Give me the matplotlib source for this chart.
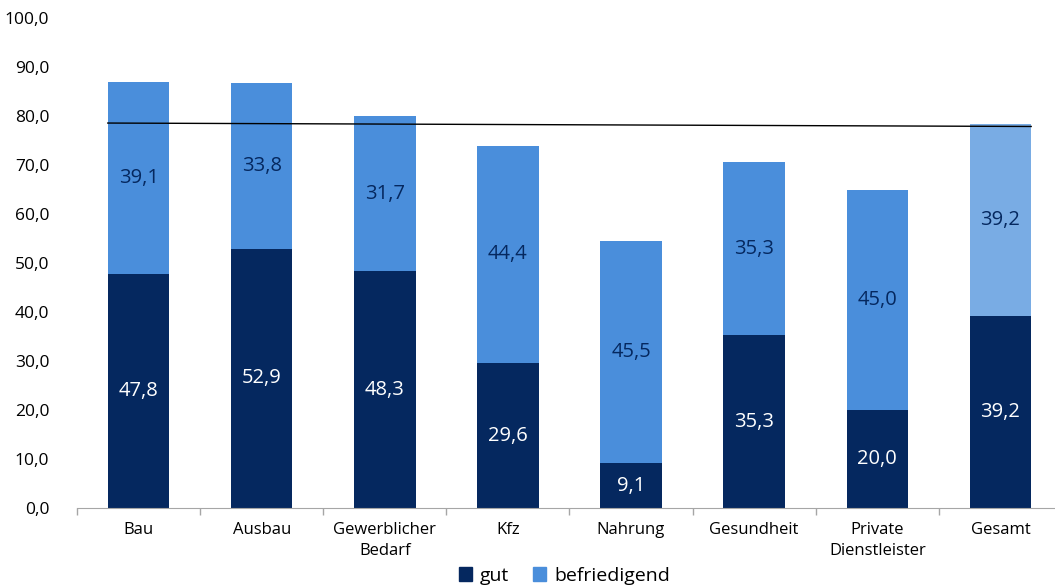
import numpy as np
import matplotlib
matplotlib.use("Agg")
import matplotlib.pyplot as plt
from matplotlib.patches import Patch
from matplotlib.ticker import FixedLocator, FuncFormatter

plt.rcParams['font.family'] = ['Open Sans', 'DejaVu Sans']

categories = ["Bau", "Ausbau", "Gewerblicher\nBedarf", "Kfz", "Nahrung",
              "Gesundheit", "Private\nDienstleister", "Gesamt"]
gut = [47.8, 52.9, 48.3, 29.6, 9.1, 35.3, 20.0, 39.2]
befriedigend = [39.1, 33.8, 31.7, 44.4, 45.5, 35.3, 45.0, 39.2]
trend = [78.6, 77.9]  # Linie von Bau bis Gesamt

NAVY = "#05285f"
BLUE = "#4a8edb"
LIGHT = "#79ace4"

fig = plt.figure(figsize=(10.55, 5.88), dpi=100)
ax = fig.add_axes([0.073, 0.136, 0.9336, 0.833])

x = np.arange(len(categories))
w = 0.5
top_colors = [BLUE] * (len(categories) - 1) + [LIGHT]

ax.bar(x, gut, width=w, color=NAVY, zorder=2)
ax.bar(x, befriedigend, width=w, bottom=gut, color=top_colors, zorder=2)

fmt = lambda v: f"{v:.1f}".replace(".", ",")
for xi, g, b in zip(x, gut, befriedigend):
    ax.text(xi, g / 2, fmt(g), ha="center", va="center", color="white", fontsize=14.5, zorder=3)
    ax.text(xi, g + b / 2, fmt(b), ha="center", va="center", color=NAVY, fontsize=14.5, zorder=3)

ax.plot([x[0] - w / 2, x[-1] + w / 2], trend, color="black", lw=1, zorder=4)

ax.set_xlim(-0.5, len(categories) - 0.5)
ax.set_ylim(0, 100)
ax.set_yticks(np.arange(0, 101, 10))
ax.yaxis.set_major_formatter(FuncFormatter(lambda v, p: fmt(v)))
ax.tick_params(axis="y", length=0, pad=20, labelsize=12.5)

ax.set_xticks(x)
ax.set_xticklabels(categories, fontsize=12, linespacing=1.45)
ax.xaxis.set_minor_locator(FixedLocator(np.arange(-0.5, len(categories), 1)))
ax.tick_params(axis="x", which="major", length=0, pad=10)
ax.tick_params(axis="x", which="minor", length=5, color="#a6a6a6", width=1)

for s in ["top", "right", "left"]:
    ax.spines[s].set_visible(False)
ax.spines["bottom"].set_color("#a6a6a6")

handles = [Patch(color=NAVY, label="gut"), Patch(color=BLUE, label="befriedigend")]
fig.legend(handles=handles, loc="lower center", bbox_to_anchor=(0.535, -0.024), ncol=2,
           frameon=False, fontsize=14, handlelength=0.7, handleheight=0.7,
           handletextpad=0.4, columnspacing=1.2)

fig.savefig("out.png", dpi=100)
